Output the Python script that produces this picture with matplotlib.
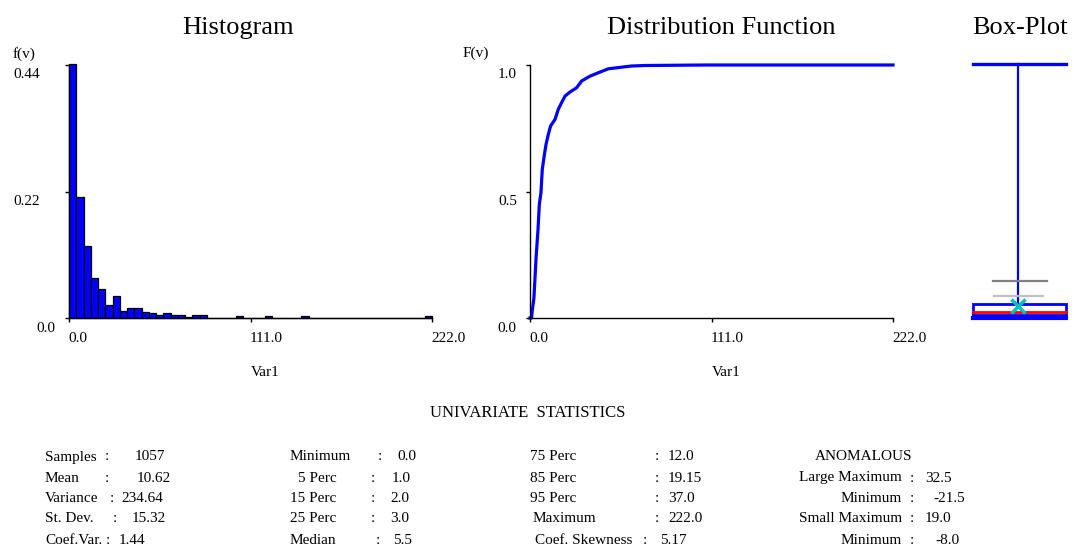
import matplotlib
matplotlib.use("Agg")
import matplotlib.pyplot as plt
import numpy as np

plt.rcParams['font.family'] = ['Liberation Serif', 'DejaVu Serif']

# ---- data ----
hist_min, hist_max, n_bins = 0.0, 222.0, 50
hist_heights = [0.442, 0.210, 0.126, 0.069, 0.050, 0.022, 0.039, 0.013, 0.017, 0.017,
                0.011, 0.008, 0.005, 0.008, 0.005, 0.005, 0.002, 0.005, 0.005, 0.0,
                0.0, 0.0, 0.0, 0.004, 0.0, 0.0, 0.0, 0.004, 0.0, 0.0,
                0.0, 0.0, 0.004, 0.0, 0.0, 0.0, 0.0, 0.0, 0.0, 0.0,
                0.0, 0.0, 0.0, 0.0, 0.0, 0.0, 0.0, 0.0, 0.0, 0.004]

cdf_x = [0.0, 1.0, 1.2, 2.4, 3.7, 4.9, 5.7, 6.7, 7.5, 8.8, 9.8, 11.2, 12.6, 15.3, 17.3,
         19.3, 21.4, 24.4, 28.5, 31.6, 36.7, 42.8, 47.9, 53.0, 62.1, 70.3, 107.0, 222.0]
cdf_f = [0.0, 0.0, 0.02, 0.079, 0.237, 0.350, 0.449, 0.495, 0.587, 0.646, 0.686, 0.726,
         0.759, 0.785, 0.825, 0.851, 0.877, 0.893, 0.910, 0.937, 0.956, 0.972, 0.985,
         0.989, 0.996, 0.998, 1.0, 1.0]

box_min, box_q25, box_median, box_q75, box_max = 0.0, 3.0, 5.5, 12.0, 222.0
box_mean = 10.62
large_max, small_max = 32.5, 19.0

hist_yticks = [0.0, 0.22, 0.44]
hist_ytick_labels = ["0.0", "0.22", "0.44"]
cdf_yticks = [0.0, 0.5, 1.0]
cdf_ytick_labels = ["0.0", "0.5", "1.0"]
xticks = [0.0, 111.0, 222.0]
xtick_labels = ["0.0", "111.0", "222.0"]

col1_labels = ["Samples", "Mean", "Variance", "St. Dev.", "Coef.Var."]
col1_values = ["1057", "10.62", "234.64", "15.32", "1.44"]
col2_labels = ["Minimum", "5 Perc", "15 Perc", "25 Perc", "Median"]
col2_values = ["0.0", "1.0", "2.0", "3.0", "5.5"]
col3_labels = ["75 Perc", "85 Perc", "95 Perc", "Maximum", "Coef. Skewness"]
col3_values = ["12.0", "19.15", "37.0", "222.0", "5.17"]
col4_labels = ["Large Maximum", "Minimum", "Small Maximum", "Minimum"]
col4_values = ["32.5", "-21.5", "19.0", "-8.0"]

# ---- layout (pixels) ----
W, H = 1074, 549
BLUE = '#0000FF'
fig = plt.figure(figsize=(W / 100, H / 100), dpi=100)


def px_axes(x0, x1, ytop, ybot):
    return fig.add_axes([x0 / W, 1 - ybot / H, (x1 - x0) / W, (ybot - ytop) / H])


def ftext(x, y, s, size=11, ha='left', **kw):
    fig.text(x / W, 1 - y / H, s, fontsize=size, ha=ha, va='center', **kw)


def style_axes(ax):
    for side in ('top', 'right'):
        ax.spines[side].set_visible(False)
    for side in ('left', 'bottom'):
        ax.spines[side].set_linewidth(1.0)
        ax.spines[side].set_color('black')
    ax.tick_params(length=3, width=1, labelbottom=False, labelleft=False)
    ax.set_xticks(xticks)
    ax.set_xlim(hist_min, hist_max)
    for v, lab in zip(xticks, xtick_labels):
        ax.annotate(lab, xy=(v, 0), xycoords=('data', 'axes fraction'), xytext=(-1, -21),
                    textcoords='offset pixels', ha='left', va='center', fontsize=11)
    ax.annotate("Var1", xy=(xticks[1], 0), xycoords=('data', 'axes fraction'), xytext=(0, -54),
                textcoords='offset pixels', ha='left', va='center', fontsize=11)


def ylabels(ax, ticks, labels, offsets):
    for v, lab, dx in zip(ticks, labels, offsets):
        ax.annotate(lab, xy=(0, v), xycoords=('axes fraction', 'data'), xytext=(dx, -10),
                    textcoords='offset pixels', ha='left', va='center', fontsize=11)


# Histogram
ax_h = px_axes(69, 432, 65, 318)
edges = np.linspace(hist_min, hist_max, n_bins + 1)
ax_h.bar(edges[:-1], hist_heights, width=np.diff(edges), align='edge', color=BLUE,
         edgecolor='black', linewidth=0.9, clip_on=False)
ax_h.set_ylim(0, 0.44)
ax_h.set_yticks(hist_yticks)
style_axes(ax_h)
ylabels(ax_h, hist_yticks, hist_ytick_labels, [-33, -56, -56])
ax_h.annotate("f(v)", xy=(0, 1), xycoords='axes fraction', xytext=(-56, 11),
              textcoords='offset pixels', ha='left', va='center', fontsize=11)

# Distribution function
ax_c = px_axes(530, 893, 65, 318)
ax_c.plot(cdf_x, cdf_f, color=BLUE, linewidth=2.3, clip_on=False)
ax_c.set_ylim(0, 1.0)
ax_c.set_yticks(cdf_yticks)
style_axes(ax_c)
ylabels(ax_c, cdf_yticks, cdf_ytick_labels, [-33, -32, -32])
ax_c.annotate("F(v)", xy=(0, 1), xycoords='axes fraction', xytext=(-67, 12),
              textcoords='offset pixels', ha='left', va='center', fontsize=11)

# Box plot
ax_b = px_axes(960, 1074, 64, 318)
ax_b.set_xlim(0, 1)
ax_b.set_ylim(0, 222)
ax_b.axis('off')
bx0, bx1, bxc = 0.114, 0.93, 0.509
ax_b.plot([bxc, bxc], [box_q75, box_max], color=BLUE, lw=1.6, clip_on=False)
ax_b.plot([bx0, bx1], [box_max, box_max], color=BLUE, lw=2.4, clip_on=False)
ax_b.plot([0.289, 0.763], [large_max, large_max], color='#808080', lw=1.6)
ax_b.plot([0.298, 0.728], [small_max, small_max], color='#C0C0C0', lw=1.6)
ax_b.add_patch(plt.Rectangle((bx0, box_q25), bx1 - bx0, box_q75 - box_q25,
                             facecolor='white', edgecolor=BLUE, lw=2.0))
ax_b.plot([bx0, bx1], [box_median, box_median], color='#FF0000', lw=2.0)
ax_b.plot([bx0, bx1], [box_min, box_min], color=BLUE, lw=3.0, clip_on=False)
ax_b.plot([bxc], [box_mean], marker='x', color='#00C0C0', markersize=10, mew=2.5)

# Titles
ftext(238, 28, "Histogram", size=19, ha='center')
ftext(721, 28, "Distribution Function", size=19, ha='center')
ftext(1020, 28, "Box-Plot", size=19, ha='center')

# Statistics block
ftext(528, 413, "UNIVARIATE  STATISTICS", size=12, ha='center')
rows = [457, 478, 499, 519, 540]

c1_colon = [107, 107, 112, 115, 108]
c1_val = [135, 137, 121, 132, 119]
for i, (lab, val) in enumerate(zip(col1_labels, col1_values)):
    ftext(45, rows[i], lab)
    ftext(c1_colon[i], rows[i], ":", ha='center')
    ftext(c1_val[i], rows[i], val)

c2_lab = [290, 298, 290, 290, 290]
c2_colon = [380, 373, 373, 373, 378]
c2_val = [397, 392, 390, 390, 393]
for i, (lab, val) in enumerate(zip(col2_labels, col2_values)):
    ftext(c2_lab[i], rows[i], lab)
    ftext(c2_colon[i], rows[i], ":", ha='center')
    ftext(c2_val[i], rows[i], val)

c3_lab = [530, 530, 530, 533, 535]
c3_colon = [657, 657, 657, 657, 645]
c3_val = [668, 668, 668, 668, 660]
for i, (lab, val) in enumerate(zip(col3_labels, col3_values)):
    ftext(c3_lab[i], rows[i], lab)
    ftext(c3_colon[i], rows[i], ":", ha='center')
    ftext(c3_val[i], rows[i], val)

ftext(815, rows[0], "ANOMALOUS")
c4_val = [925, 933, 925, 935]
for i, (lab, val) in enumerate(zip(col4_labels, col4_values)):
    ftext(902, rows[i + 1], lab, ha='right')
    ftext(912, rows[i + 1], ":", ha='center')
    ftext(c4_val[i], rows[i + 1], val)

fig.savefig("out.png", dpi=100)
